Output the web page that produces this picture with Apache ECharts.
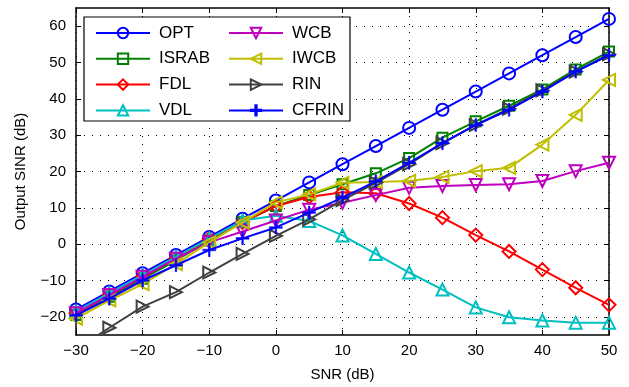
<!DOCTYPE html>
<html><head><meta charset="utf-8">
<script src="https://cdn.jsdelivr.net/npm/echarts@6/dist/echarts.min.js"></script>
<style>html,body{margin:0;padding:0;background:#fff}#c{width:629px;height:387px}</style>
</head><body><div id="c"></div>
<script>
const snr = [-30,-25,-20,-15,-10,-5,0,5,10,15,20,25,30,35,40,45,50];
const xTicks = [-30,-20,-10,0,10,20,30,40,50];
const yTicks = [-20,-10,0,10,20,30,40,50,60];
const OPT   = [-18,-13,-8,-3,2,7,12,17,22,27,32,37,42,47,52,57,62];
const ISRAB = [-19.5,-14.5,-9.5,-4.5,1,6,10.5,13.5,16.5,19.5,23.7,29.3,33.8,38.1,42.6,48.1,53];
const FDL   = [-19,-14,-9,-4,1.5,6,10.5,13,14.3,14,11.2,7.3,2.5,-2,-7,-12,-16.7];
const VDL   = [-18.5,-13.5,-8.5,-3.5,1.5,6.5,7.8,6.4,2.4,-2.7,-7.8,-12.5,-17.4,-20.1,-21,-21.6,-21.6];
const WCB   = [-19,-14,-9,-4,0.5,3.5,6.5,9.5,11.4,13.5,15.5,16,16.3,16.5,17.4,20.1,22.4];
const IWCB  = [-20.5,-15.5,-11,-5.5,0.5,6,11.5,13.7,16.9,17.1,17.4,18.5,20.1,21,27.4,35.6,45.2];
const RIN   = [-29,-23,-17.2,-13.2,-7.8,-2.7,2.3,6.8,12.1,16.9,22,27.8,32.8,37.3,42.3,47.5,52.3];
const CFRIN = [-19.6,-15,-10,-5.8,-1.6,1.6,4.6,8.7,12.8,17.3,22.4,27.8,32.8,37,42,47.5,52];

const names = ['OPT','ISRAB','FDL','VDL','WCB','IWCB','RIN','CFRIN'];
const vals = [OPT,ISRAB,FDL,VDL,WCB,IWCB,RIN,CFRIN];
const colors = ['#0000ff','#008000','#ff0000','#00bfbf','#bf00bf','#bfbf00','#404040','#0000ff'];
const symbols = ['circle','rect','diamond','triangle','triangle','triangle','triangle','path://M-1,-8H1V-1H8V1H1V8H-1V1H-8V-1H-1Z'];
const rots = [0,0,0,0,180,90,-90,0];
const sizes = [12,10,13,12,12,12,12,13];

const font = 'Liberation Sans, Arial, Helvetica, sans-serif';
const minus = v => String(v).replace('-', '\u2212');

const series = names.map((n,i)=>({
  name: n, type: 'line',
  data: snr.map((x,j)=>[x, vals[i][j]]),
  symbol: symbols[i], symbolSize: sizes[i], symbolRotate: rots[i],
  showAllSymbol: true, clip: true,
  lineStyle: {color: colors[i], width: 2},
  itemStyle: n==='CFRIN' ? {color: colors[i], borderColor: colors[i], borderWidth: 0.5}
                         : {color: 'rgba(0,0,0,0)', borderColor: colors[i], borderWidth: 2},
  emphasis: {disabled: true},
  z: 2 + i
}));

const legendCommon = {
  orient: 'vertical', itemWidth: 54, itemHeight: 13, itemGap: 8.8,
  textStyle: {fontFamily: font, fontSize: 17, color: '#000', padding: [0,0,0,4]},
  backgroundColor: 'transparent', padding: 0, selectedMode: false
};

const chart = echarts.init(document.getElementById('c'), null, {renderer: 'canvas'});
chart.setOption({
  animation: false,
  backgroundColor: '#fff',
  graphic: [{type: 'rect', shape: {x: 84, y: 17, width: 266, height: 104},
    style: {fill: '#fff', stroke: '#000', lineWidth: 1.2}, z: 50}],
  legend: [
    Object.assign({}, legendCommon, {left: 95, top: 24.5, data: names.slice(0,4), z: 60}),
    Object.assign({}, legendCommon, {left: 228, top: 24.5, data: names.slice(4), z: 60})
  ],
  grid: {left: 76, right: 20, top: 8, bottom: 50, show: false},
  xAxis: [{
    type: 'value', min: -30, max: 50, interval: 10,
    name: 'SNR (dB)', nameLocation: 'middle', nameGap: 32,
    nameTextStyle: {fontFamily: font, fontSize: 15, color: '#000'},
    axisLine: {show: true, onZero: false, lineStyle: {color: '#000', width: 1.5}},
    axisTick: {show: true, inside: true, length: 5, lineStyle: {color: '#000'}},
    axisLabel: {fontFamily: font, fontSize: 15, color: '#000', margin: 8, formatter: minus},
    splitLine: {show: true, lineStyle: {color: '#000', type: [1,7], width: 1}}
  },{
    type: 'value', position: 'top', min: -30, max: 50, interval: 10,
    axisLine: {show: true, onZero: false, lineStyle: {color: '#000', width: 1.5}},
    axisTick: {show: true, inside: true, length: 5, lineStyle: {color: '#000'}},
    axisLabel: {show: false}, splitLine: {show: false}
  }],
  yAxis: [{
    type: 'value', min: -25, max: 65, interval: 10,
    name: 'Output SINR (dB)', nameLocation: 'middle', nameGap: 48,
    nameTextStyle: {fontFamily: font, fontSize: 15, color: '#000'},
    axisLine: {show: true, onZero: false, lineStyle: {color: '#000', width: 1.5}},
    axisTick: {show: true, inside: true, length: 5, lineStyle: {color: '#000'},
      customValues: yTicks},
    axisLabel: {fontFamily: font, fontSize: 15, color: '#000', margin: 10, formatter: minus,
      customValues: yTicks},
    splitLine: {show: true, lineStyle: {color: '#000', type: [1,7], width: 1}}
  },{
    type: 'value', position: 'right', min: -25, max: 65, interval: 10,
    axisLine: {show: true, onZero: false, lineStyle: {color: '#000', width: 1.5}},
    axisTick: {show: true, inside: true, length: 5, lineStyle: {color: '#000'}, customValues: yTicks},
    axisLabel: {show: false}, splitLine: {show: false}
  }],
  series: series
});
</script></body></html>
